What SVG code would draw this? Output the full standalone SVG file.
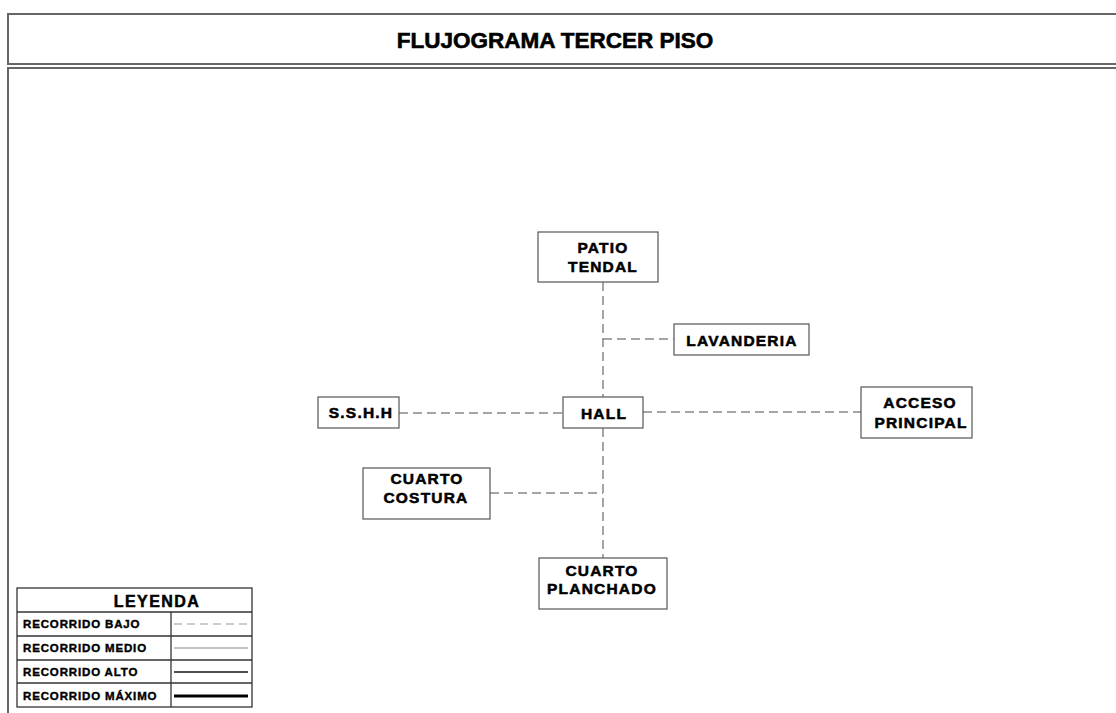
<svg xmlns="http://www.w3.org/2000/svg" width="1116" height="713" viewBox="0 0 1116 713">
  <style>
    .frame { fill: none; stroke: #666; stroke-width: 2; }
    .box { fill: #fff; stroke: #555; stroke-width: 1.2; }
    .lbl { font-family: "Liberation Sans", Arial, sans-serif; font-weight: bold; font-size: 15.5px; letter-spacing: 1.2px; fill: #000; stroke: #000; stroke-width: 0.55px; text-anchor: middle; }
    .title { font-family: "Liberation Sans", Arial, sans-serif; font-weight: bold; font-size: 22.5px; fill: #000; stroke: #000; stroke-width: 0.6px; text-anchor: middle; }
    .flow { fill: none; stroke: #888; stroke-width: 1.5; stroke-dasharray: 9 5; }
    .leg { fill: none; stroke: #333; stroke-width: 1.3; }
    .leghead { font-family: "Liberation Sans", Arial, sans-serif; font-weight: bold; font-size: 16px; letter-spacing: 1.4px; fill: #000; stroke: #000; stroke-width: 0.5px; text-anchor: middle; }
    .legtxt { font-family: "Liberation Sans", Arial, sans-serif; font-weight: bold; font-size: 11.5px; letter-spacing: 0.85px; fill: #000; stroke: #000; stroke-width: 0.4px; }
  </style>

  <rect width="1116" height="713" fill="#fff"/>

  <!-- sheet frame: title strip and drawing area -->
  <rect class="frame" x="8" y="14" width="1120" height="50"/>
  <rect class="frame" x="8" y="68" width="1120" height="660"/>
  <text class="title" x="555" y="48">FLUJOGRAMA TERCER PISO</text>

  <!-- connectors -->
  <g id="connectors">
    <line class="flow" x1="603" y1="282" x2="603" y2="397"/>
    <line class="flow" x1="603" y1="428" x2="603" y2="558"/>
    <line class="flow" x1="603" y1="339" x2="674" y2="339"/>
    <line class="flow" x1="399" y1="413" x2="563" y2="413"/>
    <line class="flow" x1="643" y1="412" x2="861" y2="412"/>
    <line class="flow" x1="490" y1="493" x2="603" y2="493"/>
  </g>

  <g id="patio-tendal">
    <rect class="box" x="538" y="232" width="120" height="50"/>
    <text class="lbl" x="603" y="253">PATIO</text>
    <text class="lbl" x="603" y="272">TENDAL</text>
  </g>

  <g id="lavanderia">
    <rect class="box" x="674" y="324" width="135" height="31"/>
    <text class="lbl" x="742" y="346">LAVANDERIA</text>
  </g>

  <g id="hall">
    <rect class="box" x="563" y="397" width="80" height="31"/>
    <text class="lbl" x="604" y="419">HALL</text>
  </g>

  <g id="sshh">
    <rect class="box" x="318" y="397" width="81" height="31"/>
    <text class="lbl" x="361" y="418">S.S.H.H</text>
  </g>

  <g id="acceso-principal">
    <rect class="box" x="861" y="387" width="111" height="51"/>
    <text class="lbl" x="920" y="408">ACCESO</text>
    <text class="lbl" x="921" y="428">PRINCIPAL</text>
  </g>

  <g id="cuarto-costura">
    <rect class="box" x="363" y="468" width="127" height="51"/>
    <text class="lbl" x="427" y="484">CUARTO</text>
    <text class="lbl" x="426" y="503">COSTURA</text>
  </g>

  <g id="cuarto-planchado">
    <rect class="box" x="539" y="558" width="128" height="51"/>
    <text class="lbl" x="602" y="576">CUARTO</text>
    <text class="lbl" x="602" y="594">PLANCHADO</text>
  </g>

  <!-- legend table -->
  <g id="leyenda">
    <rect class="leg" x="17" y="588" width="235" height="119" fill="#fff"/>
    <line class="leg" x1="17" y1="612" x2="252" y2="612"/>
    <line class="leg" x1="17" y1="636" x2="252" y2="636"/>
    <line class="leg" x1="17" y1="660" x2="252" y2="660"/>
    <line class="leg" x1="17" y1="683" x2="252" y2="683"/>
    <line class="leg" x1="171" y1="612" x2="171" y2="707"/>
    <text class="leghead" x="157" y="607">LEYENDA</text>
    <text class="legtxt" x="23" y="628">RECORRIDO BAJO</text>
    <text class="legtxt" x="23" y="652">RECORRIDO MEDIO</text>
    <text class="legtxt" x="23" y="676">RECORRIDO ALTO</text>
    <text class="legtxt" x="23" y="700">RECORRIDO MÁXIMO</text>
    <line x1="174" y1="624" x2="248" y2="624" stroke="#999" stroke-width="1.2" stroke-dasharray="8 5"/>
    <line x1="174" y1="648" x2="248" y2="648" stroke="#888" stroke-width="1"/>
    <line x1="174" y1="672" x2="248" y2="672" stroke="#111" stroke-width="1.6"/>
    <line x1="174" y1="696" x2="248" y2="696" stroke="#000" stroke-width="3.2"/>
  </g>
</svg>
